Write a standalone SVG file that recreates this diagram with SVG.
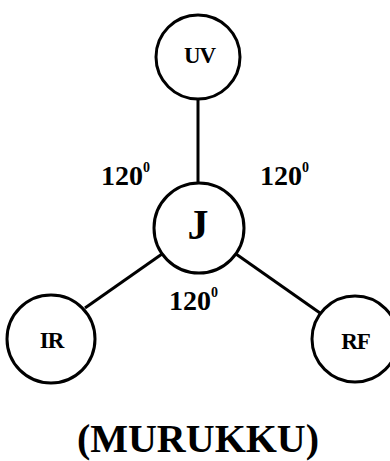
<svg xmlns="http://www.w3.org/2000/svg" width="390" height="461" viewBox="0 0 390 461">
<style>
.n{fill:#fff;stroke:#000;stroke-width:3}
.c{stroke:#000;stroke-width:3;fill:none}
text{font-family:"Liberation Serif","Times New Roman",serif;font-weight:bold;fill:#000;text-anchor:middle}
.lb{font-size:23px}
.ang{font-size:28px;text-anchor:start}
.sup{font-size:14px}
</style>
<rect width="390" height="461" fill="#fff"/>
<g id="connectors">
<line class="c" x1="198" y1="99" x2="198" y2="183"/>
<line class="c" x1="162" y1="254" x2="85" y2="308"/>
<line class="c" x1="236" y1="254" x2="320" y2="313"/>
</g>
<g id="UV"><circle class="n" cx="198" cy="57" r="42"/><text class="lb" x="199.5" y="63" letter-spacing="-1">UV</text></g>
<g id="J"><circle class="n" cx="199" cy="228" r="45"/><text x="198" y="239" font-size="42">J</text></g>
<g id="IR"><circle class="n" cx="51" cy="339" r="44"/><text class="lb" x="51.5" y="348" letter-spacing="-1">IR</text></g>
<g id="RF"><circle class="n" cx="355" cy="339" r="43"/><text class="lb" x="355.5" y="349" letter-spacing="-1">RF</text></g>
<g id="labels">
<text class="ang" x="101" y="185">120<tspan class="sup" dy="-13">0</tspan></text>
<text class="ang" x="260" y="185">120<tspan class="sup" dy="-13">0</tspan></text>
<text class="ang" x="169" y="310">120<tspan class="sup" dy="-13">0</tspan></text>
<text x="198" y="452" font-size="40">(MURUKKU)</text>
</g>
</svg>
